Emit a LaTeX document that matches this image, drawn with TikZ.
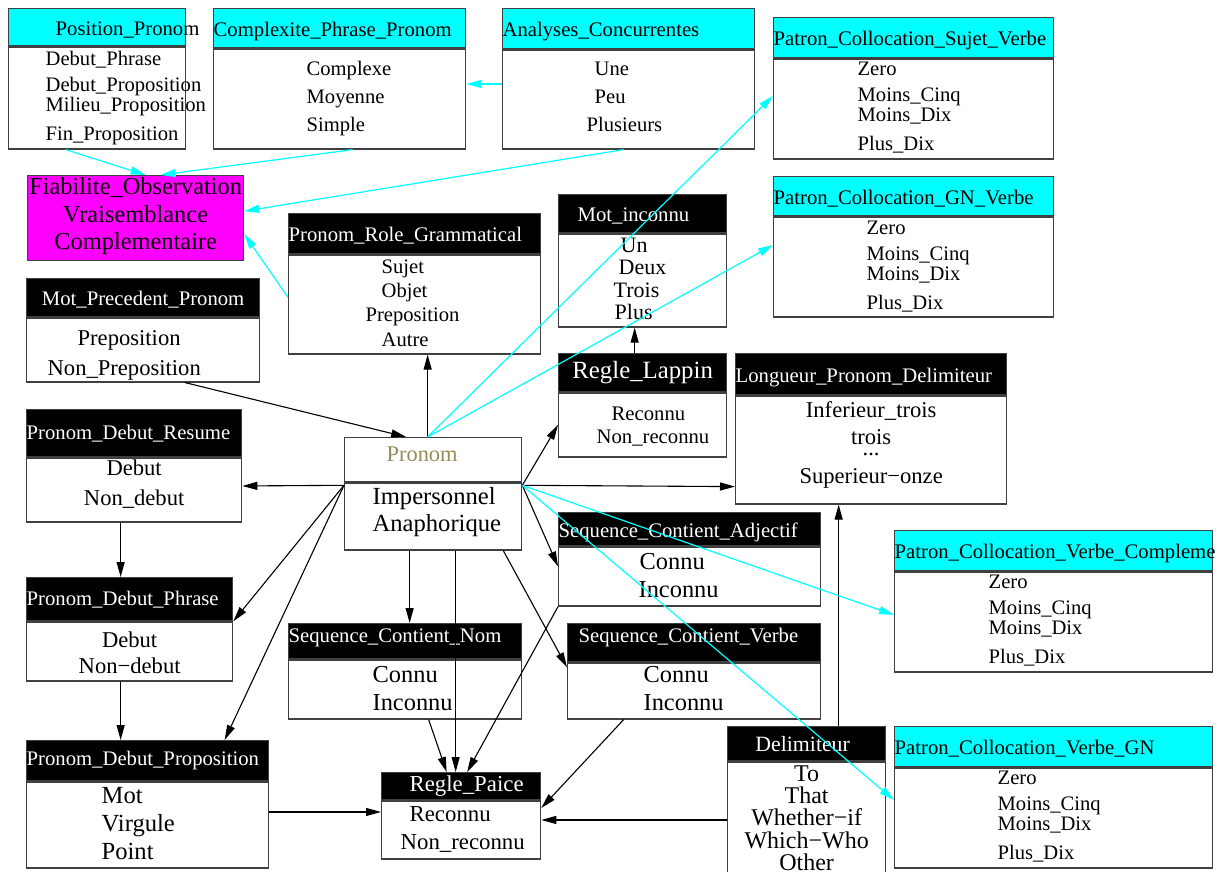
\documentclass[tikz,border=0pt]{standalone}
\usepackage{fontspec}
\setmainfont{Liberation Serif}
\usetikzlibrary{positioning, arrows.meta}
\definecolor{olivetxt}{RGB}{150,140,90}
\definecolor{aqua}{RGB}{0,255,255}
\definecolor{pink}{RGB}{255,0,255}
\newcommand{\fsz}[2]{\fontsize{#1}{#2}\selectfont}
\newcommand{\lpad}[1]{\leavevmode\kern#1pt\relax}

\begin{document}
\begin{tikzpicture}[x=1pt, y=-1pt,
    box/.style={draw=black!75, line width=1.3pt, anchor=north west, inner xsep=0pt, inner ysep=0pt},
    hdr/.style={box, fill=black, text=white, font=\fsz{20.7}{24}},
    low/.style={text height=16pt, text depth=0pt},
    chdr/.style={box, low, fill=aqua, text=black, font=\fsz{20.7}{24}},
    body/.style={box, fill=white, below=0pt of #1},
    drop/.style={text height=0pt, text depth=#1pt}, % places the first baseline
    arr/.style={-{Triangle[length=15pt,width=8pt]}, line width=1.1pt},
    carr/.style={arr, aqua, line width=1.2pt}]
    \useasboundingbox[fill=white] (0,0) rectangle (1225,871);

    % Top row (cyan headers)
    \node[chdr, text width=177pt, minimum height=37pt, align=left] (pospT) at (8,8) {\lpad{47}Position\_Pronom};
    \node[body=pospT, text width=177pt, minimum height=102pt, align=left, drop=65.6, font=\fsz{20.6}{20}] (posp)
      {\lpad{37}Debut\_Phrase\\[6pt]\lpad{37}Debut\_Proposition\\\lpad{37}Milieu\_Proposition\\[9pt]\lpad{37}Fin\_Proposition};
    \node[chdr, text width=252pt, minimum height=39pt, align=left] (cplxT) at (213,8) {Complexite\_Phrase\_Pronom};
    \node[body=cplxT, text width=252pt, minimum height=100pt, align=left, drop=47.6, font=\fsz{20.6}{28}] (cplx)
      {\lpad{93}Complexe\\\lpad{93}Moyenne\\\lpad{93}Simple};
    \node[chdr, text width=252pt, minimum height=40pt, align=left] (analT) at (502,8) {Analyses\_Concurrentes};
    \node[body=analT, text width=252pt, minimum height=99pt, align=left, drop=48.6, font=\fsz{20.6}{28}] (anal)
      {\lpad{92}Une\\\lpad{92}Peu\\\lpad{84}Plusieurs};

    % Collocation patterns (right column)
    \node[chdr, text width=280pt, minimum height=40pt, align=left] (psvT) at (773,17) {Patron\_Collocation\_Sujet\_Verbe};
    \node[body=psvT, text width=280pt, minimum height=100pt, align=left, drop=67.6, font=\fsz{20.6}{20}] (psv)
      {\lpad{84}Zero\\[6pt]\lpad{84}Moins\_Cinq\\\lpad{84}Moins\_Dix\\[9pt]\lpad{84}Plus\_Dix};
    \node[chdr, text width=280pt, minimum height=39pt, align=left] (pgvT) at (773,176) {Patron\_Collocation\_GN\_Verbe};
    \node[body=pgvT, text width=280pt, minimum height=100pt, align=left, drop=65.6, font=\fsz{20.6}{20}] (pgv)
      {\lpad{93}Zero\\[6pt]\lpad{93}Moins\_Cinq\\\lpad{93}Moins\_Dix\\[9pt]\lpad{93}Plus\_Dix};
    \node[chdr, text width=318pt, minimum height=40pt, align=left] (pvcT) at (894,530) {Patron\_Collocation\_Verbe\_Compleme};
    \node[body=pvcT, text width=318pt, minimum height=100pt, align=left, drop=66.8, font=\fsz{20.6}{20}] (pvc)
      {\lpad{94}Zero\\[6pt]\lpad{94}Moins\_Cinq\\\lpad{94}Moins\_Dix\\[9pt]\lpad{94}Plus\_Dix};
    \node[chdr, text width=318pt, minimum height=40pt, align=left] (pvgnT) at (894,726) {Patron\_Collocation\_Verbe\_GN};
    \node[body=pvgnT, text width=318pt, minimum height=100pt, align=left, drop=67.6, font=\fsz{20.6}{20}] (pvgn)
      {\lpad{103}Zero\\[6pt]\lpad{103}Moins\_Cinq\\\lpad{103}Moins\_Dix\\[9pt]\lpad{103}Plus\_Dix};

    % Observation reliability
    \node[box, fill=pink, text width=216pt, minimum height=85pt, align=center, drop=46.4, font=\fsz{24.4}{27.5}] (fiab) at (27,175)
      {Fiabilite\_Observation\\Vraisemblance\\Complementaire};

    % Black-header variables
    \node[hdr, low, text width=252pt, minimum height=40pt, align=left] (roleT) at (288,213) {Pronom\_Role\_Grammatical};
    \node[body=roleT, text width=252pt, minimum height=99pt, align=left, drop=62.6, font=\fsz{20.6}{24.3}] (role)
      {\lpad{93}Sujet\\\lpad{93}Objet\\\lpad{77}Preposition\\\lpad{93}Autre};
    \node[hdr, low, text width=168pt, minimum height=38pt, align=left] (motiT) at (558,194) {\lpad{19}Mot\_inconnu};
    \node[body=motiT, text width=168pt, minimum height=93pt, align=left, drop=55.8, font=\fsz{22}{22.3}] (moti)
      {\lpad{62}Un\\\lpad{60}Deux\\\lpad{55}Trois\\\lpad{56}Plus};
    \node[hdr, low, text width=233pt, minimum height=38pt, align=center] (mprecT) at (26,278) {Mot\_Precedent\_Pronom};
    \node[body=mprecT, text width=233pt, minimum height=64pt, align=left, drop=8.4, font=\fsz{22.6}{30}] (mprec)
      {\lpad{51}Preposition\\\lpad{21}Non\_Preposition};
    \node[hdr, text width=168pt, minimum height=38pt, align=center, font=\fsz{24.8}{28}] (lappT) at (558,353) {Regle\_Lappin};
    \node[body=lappT, text width=168pt, minimum height=64pt, align=left, drop=9.6, font=\fsz{20.7}{23}] (lapp)
      {\lpad{53}Reconnu\\\lpad{38}Non\_reconnu};
    \node[hdr, low, text width=271pt, minimum height=41pt, align=left] (longT) at (735,353) {Longueur\_Pronom\_Delimiteur};
    \node[body=longT, text width=271pt, minimum height=108pt, align=center, drop=64.4, font=\fsz{22.6}{24}] (long)
      {Inferieur\_trois\\[3pt]trois\\[-13pt]...\\[4pt]Superieur−onze};
    \node[hdr, text width=215pt, minimum height=47pt, align=left] (resumeT) at (26,409) {Pronom\_Debut\_Resume};
    \node[body=resumeT, text width=215pt, minimum height=64pt, align=center, drop=28.4, font=\fsz{22.6}{30}] (resume)
      {Debut\\Non\_debut};

    % Pronom (centre)
    \node[box, fill=white, text=olivetxt, text width=177pt, minimum height=44pt, align=left, text height=3.4pt, text depth=0pt,
      font=\fsz{22.4}{24}] (pronT) at (344,437) {\lpad{42}Pronom};
    \node[body=pronT, text width=177pt, minimum height=67pt, align=left, drop=24.2, font=\fsz{24.6}{27}] (pron)
      {\lpad{28}Impersonnel\\\lpad{28}Anaphorique};

    \node[hdr, low, text width=262pt, minimum height=33pt, align=left] (sadjT) at (558,512) {Sequence\_Contient\_Adjectif};
    \node[body=sadjT, text width=262pt, minimum height=59pt, align=left, drop=14.4, font=\fsz{24.4}{28}] (sadj)
      {\lpad{81}Connu\\\lpad{80}Inconnu};
    \node[hdr, text width=206pt, minimum height=43pt, align=left] (phraseT) at (26,577) {Pronom\_Debut\_Phrase};
    \node[body=phraseT, text width=206pt, minimum height=59pt, align=center, drop=7.4, font=\fsz{22.6}{26}] (phrase)
      {Debut\\Non−debut};
    \node[hdr, text width=233pt, minimum height=35pt, align=left, text height=2pt, text depth=0pt] (snomT) at (288,623) {Sequence\_Contient\_Nom};
    \node[body=snomT, text width=233pt, minimum height=59pt, align=left, drop=14.4, font=\fsz{24.4}{28}] (snom)
      {\lpad{84}Connu\\\lpad{84}Inconnu};
    \node[hdr, text width=253pt, minimum height=38pt, align=left, text height=0pt, text depth=1pt] (sverbT) at (567,623) {\lpad{11}Sequence\_Contient\_Verbe};
    \node[body=sverbT, text width=253pt, minimum height=56pt, align=left, drop=17.4, font=\fsz{24.4}{28}] (sverb)
      {\lpad{76}Connu\\\lpad{76}Inconnu};
    \node[hdr, text width=242pt, minimum height=40pt, align=left] (propT) at (26,740) {Pronom\_Debut\_Proposition};
    \node[body=propT, text width=242pt, minimum height=86pt, align=left, drop=43.2, font=\fsz{24.6}{28}] (prop)
      {\lpad{75}Mot\\\lpad{75}Virgule\\\lpad{75}Point};
    \node[hdr, text width=159pt, minimum height=27pt, align=left, font=\fsz{22.8}{24}] (paiceT) at (381,772) {\lpad{28}Regle\_Paice};
    \node[body=paiceT, text width=159pt, minimum height=58pt, align=left, drop=16.4, font=\fsz{22.8}{28}] (paice)
      {\lpad{28}Reconnu\\\lpad{19}Non\_reconnu};
    \node[hdr, text width=158pt, minimum height=34pt, align=center, font=\fsz{21.8}{24}] (delimT) at (727,726) {\lpad{-8}Delimiteur};
    \node[body=delimT, text width=158pt, minimum height=113pt, align=center, drop=74.6, font=\fsz{24}{22.3}] (delim)
      {To\\That\\Whether−if\\Which−Who\\Other};

    % Black links
    \draw[arr] ([xshift=-5.5pt]pronT.north) -- ([xshift=13pt]role.south);
    \draw[arr] ([xshift=42pt]mprec.south) -- ([xshift=-27pt]pronT.north);
    \draw[arr] ([yshift=-3pt]pron.north west) -- ([yshift=4pt]resume.east);
    \draw[arr] ([yshift=-3pt]pron.north west) -- (phrase.north east);
    \draw[arr] ([yshift=-3pt]pron.north west) -- ([xshift=77pt]propT.north);
    \draw[arr] ([xshift=-13.5pt]resume.south) -- ([xshift=-9pt]phraseT.north);
    \draw[arr] ([xshift=-9pt]phrase.south) -- ([xshift=-27pt]propT.north);
    \draw[arr] ([yshift=13pt]prop.east) -- ([yshift=18pt]paice.west);
    \draw[arr] ([xshift=-23.5pt]pron.south) -- ([xshift=4.5pt]snomT.north);
    \draw[arr] ([xshift=22.5pt]pron.south) -- ([xshift=-5.5pt]paiceT.north);
    \draw[arr] ([xshift=23.5pt]snom.south) -- ([xshift=-14.5pt]paiceT.north);
    \draw[arr] (sadj.south west) -- ([xshift=6pt]paiceT.north);
    \draw[arr] ([xshift=-70.5pt]sverb.south) -- ([yshift=22pt]paice.east);
    \draw[arr] ([yshift=-1.5pt]delim.west) -- ([yshift=10pt]paice.east);
    \draw[arr] ([xshift=32pt]delimT.north) -- ([xshift=-32.5pt]long.south);
    \draw[arr] ([yshift=-3pt]pron.north east) -- ([yshift=18pt]long.south west);
    \draw[arr] ([yshift=-3pt]pron.north east) -- (lapp.west);
    \draw[arr] ([yshift=-3pt]pron.north east) -- ([yshift=10pt]sadj.west);
    \draw[arr] ([xshift=-19pt]pron.south east) -- ([yshift=-5pt]sverb.north west);
    \draw[arr] ([xshift=-8pt]lappT.north) -- ([xshift=-8pt]moti.south);

    % Cyan links
    \draw[carr] ([xshift=-31.5pt]posp.south) -- ([xshift=10pt]fiab.north);
    \draw[carr] ([xshift=13pt]cplx.south) -- ([xshift=25pt]fiab.north);
    \draw[carr] ([xshift=-5pt]anal.south) -- ([yshift=7pt]fiab.east);
    \draw[carr] ([yshift=7pt]role.west) -- ([yshift=-16pt]fiab.east);
    \draw[carr] ([yshift=15.5pt]anal.west) -- ([yshift=15pt]cplx.east);
    \draw[carr] ([xshift=-5.5pt]pronT.north) -- ([yshift=13pt]psv.west);
    \draw[carr] ([xshift=-5.5pt]pronT.north) -- ([yshift=22pt]pgv.west);
    \draw[carr] ([yshift=-3pt]pron.north east) -- ([yshift=7pt]pvc.west);
    \draw[carr] ([yshift=-3pt]pron.north east) -- ([yshift=18pt]pvgn.west);

  \end{tikzpicture}
\end{document}
